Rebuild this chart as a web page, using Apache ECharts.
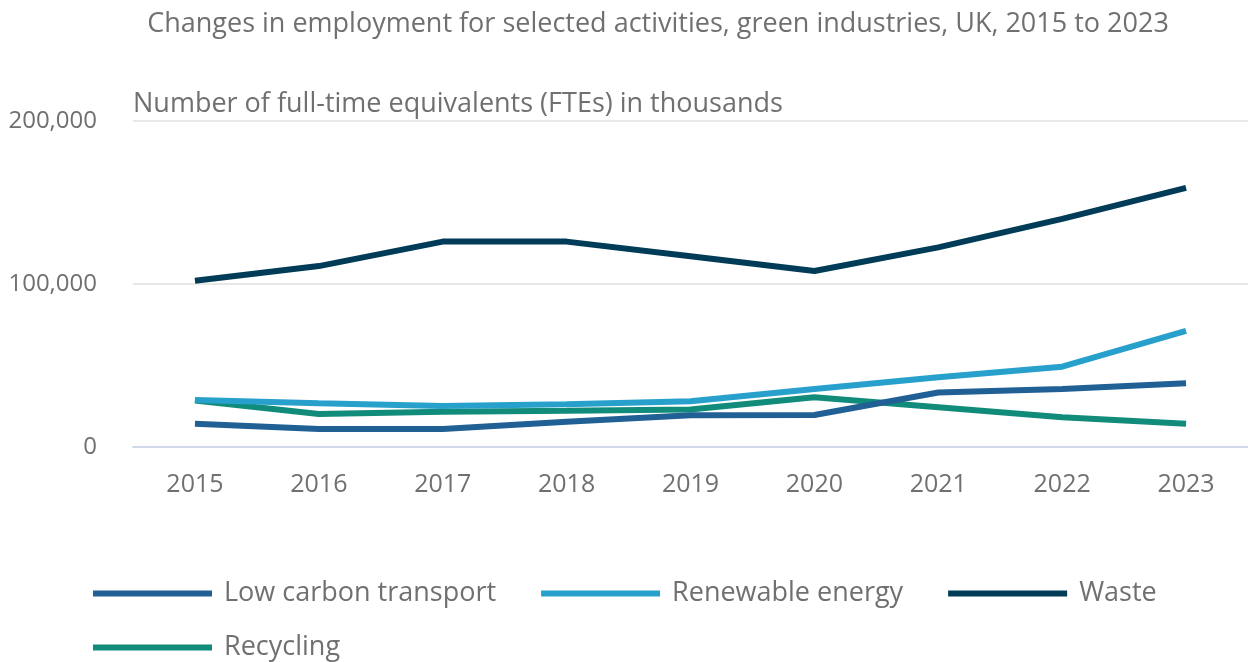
<!DOCTYPE html>
<html>
<head>
<meta charset="utf-8">
<script src="https://cdn.jsdelivr.net/npm/echarts@6/dist/echarts.min.js"></script>
<style>html,body{margin:0;padding:0;background:#fff}#c{width:1248px;height:662px}</style>
</head>
<body>
<div id="c"></div>
<script>
const years = ['2015','2016','2017','2018','2019','2020','2021','2022','2023'];
const lowCarbonTransport = [14200, 11000, 11000, 15500, 19500, 19600, 33400, 35600, 39100];
const renewableEnergy = [28900, 26900, 25200, 26300, 28000, 35600, 42800, 49300, 71300];
const waste = [102000, 111000, 126000, 126000, 117000, 108000, 122500, 140000, 159000];
const recycling = [28500, 20200, 21600, 22200, 23000, 30500, 24400, 18300, 14200];
const seriesNames = ['Low carbon transport', 'Renewable energy', 'Waste', 'Recycling'];
const yTicks = [0, 100000, 200000];

const colors = ['#206095', '#27a0cc', '#003c57', '#118c7b'];
const font = '"Open Sans", "Noto Sans", sans-serif';
const txt = '#707071';

const chart = echarts.init(document.getElementById('c'), null, {renderer: 'canvas'});
const dataList = [lowCarbonTransport, renewableEnergy, waste, recycling];
chart.setOption({
  animation: false,
  color: colors,
  title: [
    {text: 'Changes in employment for selected activities, green industries, UK, 2015 to 2023',
     left: 658, textAlign: 'center', top: 11, padding: 0,
     textStyle: {fontFamily: font, fontSize: 27, fontWeight: 'normal', color: txt}},
    {text: 'Number of full-time equivalents (FTEs) in thousands',
     left: 133, top: 91, padding: 0,
     textStyle: {fontFamily: font, fontSize: 27, fontWeight: 'normal', color: txt}}
  ],
  grid: {left: 133, right: -2, top: 121, bottom: 215, containLabel: false},
  legend: {
    data: seriesNames,
    left: 93, top: 580, width: 1120, padding: 0,
    icon: 'rect', itemWidth: 119, itemHeight: 6, itemGap: 27,
    formatter: name => name + '\u2002\u2009',
    textStyle: {fontFamily: font, fontSize: 27, color: txt, padding: [0, 0, 0, 7]},
    itemStyle: {borderWidth: 0}
  },
  xAxis: {
    type: 'category', data: years, boundaryGap: true,
    axisLine: {lineStyle: {color: '#d0d8ea', width: 2}},
    axisTick: {alignWithLabel: true, length: 20, lineStyle: {color: '#d0d8ea', width: 2}},
    axisLabel: {fontFamily: font, fontSize: 25, color: txt, margin: 25}
  },
  yAxis: {
    type: 'value', min: yTicks[0], max: yTicks[yTicks.length-1], interval: yTicks[1]-yTicks[0],
    axisLine: {show: false}, axisTick: {show: false},
    splitLine: {lineStyle: {color: '#e8e8e8', width: 2}},
    axisLabel: {fontFamily: font, fontSize: 24, color: txt, margin: 36,
      formatter: v => v.toLocaleString('en-GB')}
  },
  series: seriesNames.map((n, i) => ({
    name: n, type: 'line', data: dataList[i], symbol: 'none',
    lineStyle: {width: 6, color: colors[i]}, z: 10 - i
  }))
});
</script>
</body>
</html>
